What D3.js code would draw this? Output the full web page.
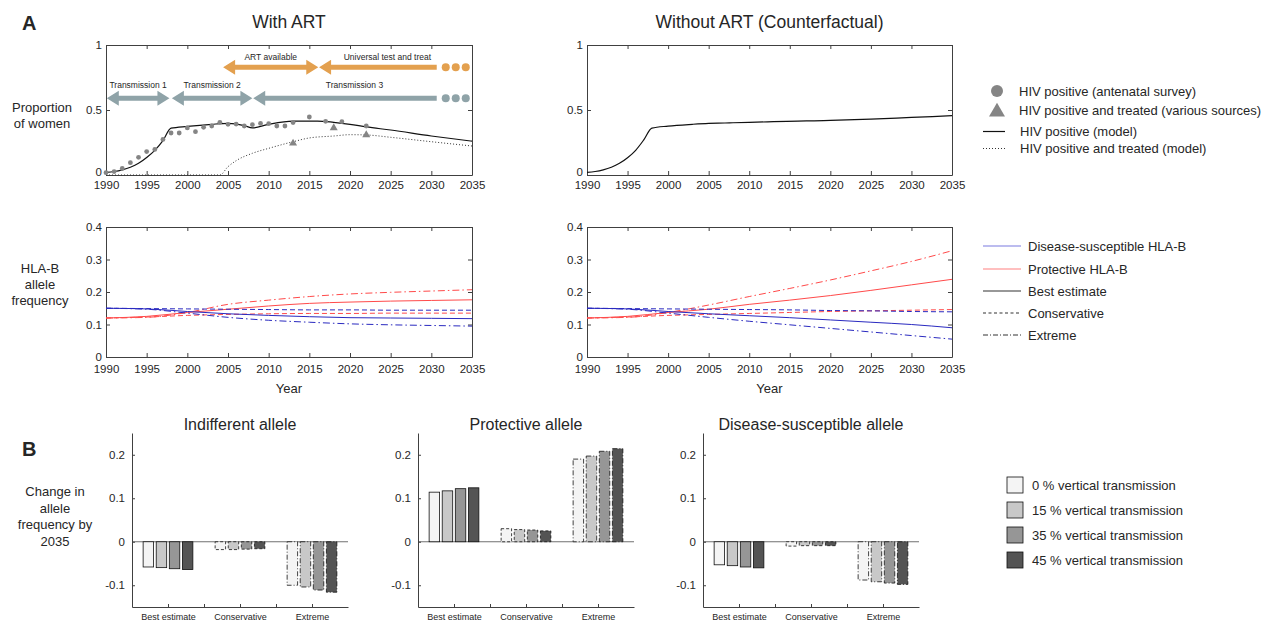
<!DOCTYPE html>
<html>
<head>
<meta charset="utf-8">
<script src="https://cdn.jsdelivr.net/npm/d3@7"></script>
<style>
  body { margin: 0; background: #fff; }
  text { font-family: "Liberation Sans", Arial, sans-serif; fill: #262626; }
</style>
</head>
<body>
<div id="chart"></div>
<script>
// ---- Panel A, top row: proportion of women HIV positive ----
const yearsHiv = [1990, 1991, 1992, 1993, 1994, 1995, 1996, 1997, 1998, 2000, 2003, 2005, 2007, 2008, 2010, 2013, 2016, 2018, 2020, 2022, 2025, 2030, 2035];
const hivWithArt = [0.02, 0.027, 0.04, 0.06, 0.09, 0.135, 0.19, 0.265, 0.36, 0.374, 0.39, 0.397, 0.38, 0.362, 0.39, 0.415, 0.415, 0.405, 0.39, 0.37, 0.346, 0.30, 0.26];
const hivNoArt = [0.02, 0.027, 0.04, 0.06, 0.09, 0.133, 0.19, 0.27, 0.36, 0.376, 0.39, 0.397, 0.40, 0.402, 0.405, 0.41, 0.414, 0.417, 0.42, 0.424, 0.43, 0.443, 0.456];

const yearsTreated = [1990, 2004, 2005, 2006, 2008, 2010, 2013, 2015, 2018, 2020, 2022, 2025, 2030, 2035];
const treatedWithArt = [0, 0, 0.064, 0.11, 0.167, 0.205, 0.256, 0.285, 0.30, 0.31, 0.308, 0.29, 0.256, 0.223];

const yearsSurvey = [1990, 1991, 1992, 1993, 1994, 1995, 1996, 1997, 1998, 1999, 2000, 2001, 2002, 2003, 2004, 2005, 2006, 2007, 2008, 2009, 2010, 2011, 2012, 2013, 2015, 2017, 2019, 2022];
const surveyPositive = [0.018, 0.026, 0.05, 0.095, 0.136, 0.18, 0.197, 0.274, 0.323, 0.323, 0.362, 0.333, 0.367, 0.377, 0.405, 0.39, 0.392, 0.377, 0.387, 0.397, 0.395, 0.377, 0.377, 0.403, 0.446, 0.413, 0.41, 0.377];

const yearsTreatedObs = [2013, 2018, 2022];
const treatedObs = [0.244, 0.362, 0.308];

const transmissionPhases = ["Transmission 1", "Transmission 2", "Transmission 3"];
const transmissionStart = [1990.1, 1998.1, 2008.1];
const transmissionEnd = [1997.8, 2008, 2033];
const artPhases = ["ART available", "Universal test and treat"];
const artStart = [2004.4, 2016.2];
const artEnd = [2016.1, 2033];

// ---- Panel A, middle row: HLA-B allele frequency ----
const yearsAllele = [1990, 1995, 2000, 2005, 2010, 2015, 2020, 2025, 2030, 2035];
const protBestArt = [0.12, 0.125, 0.137, 0.147, 0.157, 0.165, 0.169, 0.172, 0.174, 0.176];
const protConsArt = [0.12, 0.123, 0.128, 0.131, 0.133, 0.134, 0.134, 0.135, 0.135, 0.135];
const protExtArt  = [0.12, 0.122, 0.137, 0.162, 0.175, 0.186, 0.194, 0.199, 0.203, 0.207];
const suscBestArt = [0.15, 0.148, 0.14, 0.133, 0.128, 0.124, 0.121, 0.12, 0.119, 0.118];
const suscConsArt = [0.15, 0.149, 0.148, 0.147, 0.146, 0.145, 0.145, 0.144, 0.144, 0.144];
const suscExtArt  = [0.15, 0.147, 0.135, 0.122, 0.113, 0.107, 0.102, 0.099, 0.097, 0.095];

const protBestNo = [0.12, 0.125, 0.137, 0.147, 0.162, 0.175, 0.189, 0.205, 0.222, 0.239];
const protConsNo = [0.12, 0.123, 0.128, 0.131, 0.134, 0.137, 0.14, 0.142, 0.144, 0.146];
const protExtNo  = [0.12, 0.122, 0.137, 0.16, 0.186, 0.211, 0.237, 0.265, 0.294, 0.327];
const suscBestNo = [0.15, 0.148, 0.14, 0.133, 0.127, 0.121, 0.114, 0.107, 0.1, 0.09];
const suscConsNo = [0.15, 0.149, 0.148, 0.147, 0.146, 0.145, 0.143, 0.142, 0.14, 0.139];
const suscExtNo  = [0.15, 0.147, 0.135, 0.122, 0.11, 0.099, 0.088, 0.077, 0.066, 0.055];

// ---- Panel B: change in allele frequency by 2035 ----
const categories = ["Best estimate", "Conservative", "Extreme"];
const verticalLevels = ["0 % vertical transmission", "15 % vertical transmission", "35 % vertical transmission", "45 % vertical transmission"];
const indifferent = [[-0.058, -0.0595, -0.062, -0.064], [-0.018, -0.018, -0.017, -0.016], [-0.100, -0.104, -0.111, -0.116]];
const protective  = [[0.114, 0.117, 0.122, 0.124], [0.030, 0.028, 0.027, 0.025], [0.190, 0.197, 0.208, 0.214]];
const susceptible = [[-0.053, -0.055, -0.058, -0.060], [-0.010, -0.009, -0.009, -0.009], [-0.088, -0.092, -0.095, -0.098]];

const svg = d3.select("#chart").append("svg").attr("width", 1279).attr("height", 625);

const axisColor = "#404040";
const blue = "#2a2ac0", red = "#ff4a4a";
const dashed = "5,3", dashDot = "7,3,1.5,3";

function styleAxis(sel, size) {
  sel.selectAll("text").style("font-size", size + "px").style("font-family", "'Liberation Sans', Arial, sans-serif").attr("fill", "#262626");
  sel.selectAll("line").attr("stroke", axisColor);
  sel.select(".domain").attr("stroke", axisColor);
}

// line plot frame with box and inward ticks
function lineAxes(left, top, width, height, yDomain, yTicks, xPad, zeroLift) {
  const x = d3.scaleLinear().domain([1990, 2035]).range([left, left + width]);
  const y = d3.scaleLinear().domain(yDomain).range([top + height, top]);
  const xt = d3.range(1990, 2036, 5);
  const fmt = d => String(Math.round(d * 10) / 10);

  svg.append("g").attr("transform", `translate(0,${top + height})`)
    .call(d3.axisBottom(x).tickValues(xt).tickSizeInner(-4).tickSizeOuter(0).tickPadding(xPad).tickFormat(d3.format("d")))
    .call(s => styleAxis(s, 11.5));
  svg.append("g").attr("transform", `translate(0,${top})`)
    .call(d3.axisTop(x).tickValues(xt).tickSizeInner(-4).tickSizeOuter(0).tickFormat(""))
    .call(s => styleAxis(s, 11.5));
  svg.append("g").attr("transform", `translate(${left},0)`)
    .call(d3.axisLeft(y).tickValues(yTicks).tickSizeInner(-4).tickSizeOuter(0).tickPadding(4).tickFormat(fmt))
    .call(s => styleAxis(s, 11.5))
    .call(s => s.selectAll(".tick text").filter(d => d === 0).attr("y", -zeroLift));
  svg.append("g").attr("transform", `translate(${left + width},0)`)
    .call(d3.axisRight(y).tickValues(yTicks).tickSizeInner(-4).tickSizeOuter(0).tickFormat(""))
    .call(s => styleAxis(s, 11.5));
  return { x, y };
}

function drawLine(sc, xs, ys, color, dash, width) {
  const line = d3.line().x((d, i) => sc.x(xs[i])).y(d => sc.y(d)).curve(d3.curveMonotoneX);
  svg.append("path").datum(ys).attr("d", line).attr("fill", "none")
    .attr("stroke", color).attr("stroke-width", width || 1)
    .attr("stroke-dasharray", dash || null);
}

// ---------- top row ----------
const topL = lineAxes(106, 45, 366, 130, [0, 1], [0, 0.5, 1], 6, 3);
const topR = lineAxes(587, 45, 365, 130, [0, 1], [0, 0.5, 1], 6, 3);

// phase arrows
function phaseArrows(sc, names, starts, ends, yVal, color, labelGap) {
  const yp = sc.y(yVal), half = 2.5, headH = 7.5, headL = 12;
  names.forEach((name, i) => {
    const xs = sc.x(starts[i]), xe = sc.x(ends[i]);
    const ongoing = i === names.length - 1;
    const shaftEnd = ongoing ? xe - 19 : xe - headL;
    let p = `M${xs},${yp} L${xs + headL},${yp - headH} L${xs + headL},${yp - half} L${shaftEnd},${yp - half}`;
    if (ongoing) {
      p += ` L${shaftEnd},${yp + half}`;
    } else {
      p += ` L${shaftEnd},${yp - headH} L${xe},${yp} L${shaftEnd},${yp + headH} L${shaftEnd},${yp + half}`;
    }
    p += ` L${xs + headL},${yp + half} L${xs + headL},${yp + headH} Z`;
    svg.append("path").attr("d", p).attr("fill", color);
    if (ongoing) {
      svg.selectAll(null).data([-10, 0, 10]).enter().append("circle")
        .attr("cx", d => xe + d).attr("cy", yp).attr("r", 4).attr("fill", color);
    }
    svg.append("text").attr("x", (xs + xe) / 2)
      .attr("y", yp - labelGap)
      .attr("text-anchor", "middle").style("font-size", "8.5px").text(name);
  });
}
phaseArrows(topL, transmissionPhases, transmissionStart, transmissionEnd, 0.59, "#8fa3a8", 10);
phaseArrows(topL, artPhases, artStart, artEnd, 0.828, "#e3a04f", 7);

drawLine(topL, yearsTreated, treatedWithArt, "#333", "1,2", 1);
drawLine(topL, yearsHiv, hivWithArt, "#111", null, 1.2);

svg.append("g").selectAll("circle").data(surveyPositive).enter().append("circle")
  .attr("cx", (d, i) => topL.x(yearsSurvey[i])).attr("cy", d => topL.y(d))
  .attr("r", 2.4).attr("fill", "#858585");
const tri = d3.symbol().type(d3.symbolTriangle).size(28);
svg.append("g").selectAll("path").data(treatedObs).enter().append("path")
  .attr("d", tri).attr("fill", "#858585")
  .attr("transform", (d, i) => `translate(${topL.x(yearsTreatedObs[i])},${topL.y(d)})`);

drawLine(topR, yearsHiv, hivNoArt, "#111", null, 1.2);

// ---------- middle row ----------
const midL = lineAxes(106, 227, 366, 130, [0, 0.4], [0, 0.1, 0.2, 0.3, 0.4], 8.2, 0);
const midR = lineAxes(587, 227, 365, 130, [0, 0.4], [0, 0.1, 0.2, 0.3, 0.4], 8.2, 0);

[[midL, [protBestArt, protConsArt, protExtArt], [suscBestArt, suscConsArt, suscExtArt]],
 [midR, [protBestNo, protConsNo, protExtNo], [suscBestNo, suscConsNo, suscExtNo]]].forEach(([sc, prot, susc]) => {
  const dashes = [null, dashed, dashDot];
  prot.forEach((s, i) => drawLine(sc, yearsAllele, s, red, dashes[i], 1));
  susc.forEach((s, i) => drawLine(sc, yearsAllele, s, blue, dashes[i], 1));
});

// ---------- titles and labels ----------
function label(x, y, txt, size, weight, anchor) {
  svg.append("text").attr("x", x).attr("y", y).attr("text-anchor", anchor || "middle")
    .style("font-size", size + "px").style("font-weight", weight || "normal").text(txt);
}
label(22, 30, "A", 20, "bold", "start");
label(22, 456, "B", 20, "bold", "start");
label(289, 28, "With ART", 17.5);
label(769.5, 28, "Without ART (Counterfactual)", 17.5);
label(42, 112, "Proportion", 13);
label(42, 128, "of women", 13);
label(40, 273, "HLA-B", 13);
label(40, 289, "allele", 13);
label(40, 305, "frequency", 13);
label(289, 393, "Year", 13);
label(769.5, 393, "Year", 13);
label(55, 496, "Change in", 13);
label(55, 513, "allele", 13);
label(55, 529, "frequency by", 13);
label(55, 546, "2035", 13);

// ---------- legends ----------
const lg1 = svg.append("g");
lg1.append("circle").attr("cx", 997).attr("cy", 91).attr("r", 6).attr("fill", "#858585");
lg1.append("path").attr("d", d3.symbol().type(d3.symbolTriangle).size(110)).attr("fill", "#858585")
  .attr("transform", "translate(997,112)");
lg1.append("line").attr("x1", 983).attr("x2", 1005).attr("y1", 131.5).attr("y2", 131.5).attr("stroke", "#111").attr("stroke-width", 1.2);
lg1.append("line").attr("x1", 983).attr("x2", 1005).attr("y1", 148.5).attr("y2", 148.5).attr("stroke", "#333").attr("stroke-dasharray", "1,2");
label(1019, 95.5, "HIV positive (antenatal survey)", 13, null, "start");
label(1019, 115, "HIV positive and treated (various sources)", 13, null, "start");
label(1020, 136, "HIV positive (model)", 13, null, "start");
label(1020, 152.5, "HIV positive and treated (model)", 13, null, "start");

const lg2Names = ["Disease-susceptible HLA-B", "Protective HLA-B", "Best estimate", "Conservative", "Extreme"];
const lg2Colors = ["#7a7ae0", "#ff8080", "#333", "#333", "#333"];
const lg2Dash = [null, null, null, "3,2.5", "5,2,1,2"];
const lg2Y = [246, 269, 291, 313, 335];
lg2Names.forEach((n, i) => {
  svg.append("line").attr("x1", 983).attr("x2", 1021).attr("y1", lg2Y[i]).attr("y2", lg2Y[i])
    .attr("stroke", lg2Colors[i]).attr("stroke-width", 1.2).attr("stroke-dasharray", lg2Dash[i]);
  label(1028, lg2Y[i] + 4.5, n, 13, null, "start");
});

// ---------- panel B bars ----------
const fills = ["#f4f4f4", "#c8c8c8", "#969696", "#545454"];
const edgeDash = [null, "3,2", "5,2,1,2"];

function barPanel(left, title, values) {
  const x = d3.scaleLinear().domain([0.5, 3.5]).range([left, left + 216]);
  const y = d3.scaleLinear().domain([-0.15, 0.25]).range([607, 433]);
  const band = d3.scaleBand().domain(d3.range(4)).range([-0.3636, 0.3636]).paddingInner(0.2).paddingOuter(0.1);
  const g = svg.append("g");

  g.append("line").attr("x1", x(0.5)).attr("x2", x(3.5)).attr("y1", y(0)).attr("y2", y(0))
    .attr("stroke", "#707070").attr("stroke-width", 1);

  const flat = values.flatMap((grp, ci) => grp.map((v, si) => ({ ci, si, v })));
  g.selectAll("rect").data(flat).enter().append("rect")
    .attr("x", d => x(d.ci + 1 + band(d.si)))
    .attr("width", d => x(d.ci + 1 + band(d.si) + band.bandwidth()) - x(d.ci + 1 + band(d.si)))
    .attr("y", d => y(Math.max(0, d.v)))
    .attr("height", d => Math.abs(y(d.v) - y(0)))
    .attr("fill", d => fills[d.si])
    .attr("stroke", "#111").attr("stroke-width", 0.8)
    .attr("stroke-dasharray", d => edgeDash[d.ci]);

  g.append("g").attr("transform", "translate(0,607)")
    .call(d3.axisBottom(x).tickValues([1, 1.5, 2, 2.5, 3]).tickSizeInner(-3).tickSizeOuter(0).tickPadding(7)
      .tickFormat(d => Number.isInteger(d) ? categories[d - 1] : ""))
    .call(s => styleAxis(s, 9));
  g.append("g").attr("transform", `translate(${left},0)`)
    .call(d3.axisLeft(y).tickValues([-0.1, 0, 0.1, 0.2]).tickSizeInner(-3).tickSizeOuter(0).tickPadding(7)
      .tickFormat(d => String(Math.round(d * 10) / 10)))
    .call(s => styleAxis(s, 11.5));

  label(x(2), 430, title, 16);
}
barPanel(132, "Indifferent allele", indifferent);
barPanel(418, "Protective allele", protective);
barPanel(703, "Disease-susceptible allele", susceptible);

const lgY = [485, 510, 535, 560];
verticalLevels.forEach((n, i) => {
  svg.append("rect").attr("x", 1007).attr("y", lgY[i] - 8).attr("width", 16).attr("height", 16)
    .attr("fill", fills[i]).attr("stroke", "#111").attr("stroke-width", 0.8);
  label(1032, lgY[i] + 4.5, n, 13, null, "start");
});
</script>
</body>
</html>
